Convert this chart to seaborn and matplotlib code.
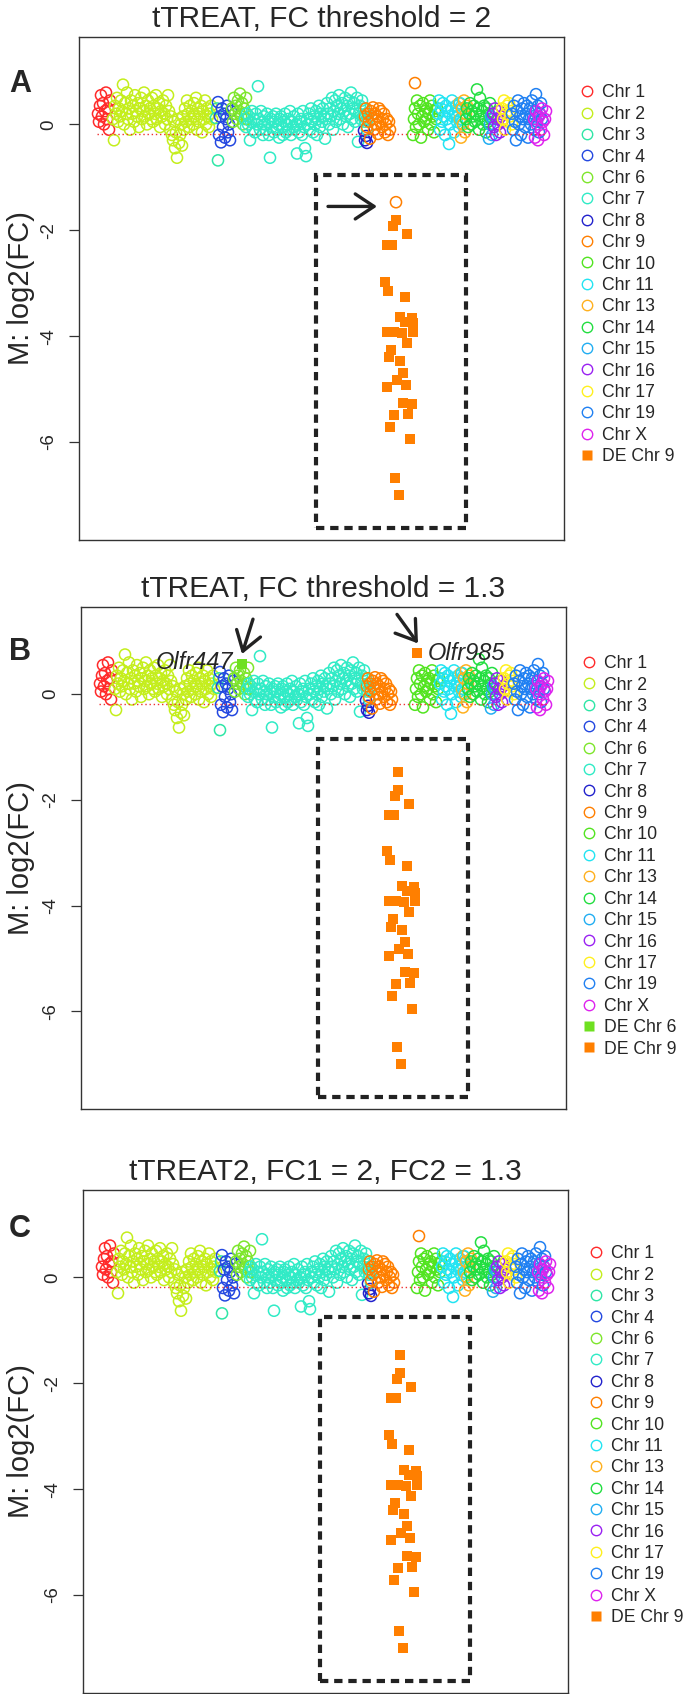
import numpy as np
import pandas as pd
import matplotlib
matplotlib.use("Agg")
import matplotlib.pyplot as plt
from matplotlib.lines import Line2D
from matplotlib.patches import Rectangle
import seaborn as sns

# chromosome names, colours and the gene rank where each block starts
chr_names = ['Chr 1', 'Chr 2', 'Chr 3', 'Chr 4', 'Chr 6', 'Chr 7', 'Chr 8', 'Chr 9', 'Chr 10',
             'Chr 11', 'Chr 13', 'Chr 14', 'Chr 15', 'Chr 16', 'Chr 17', 'Chr 19', 'Chr X']
chr_colors = ['#FF2A2A', '#C4EE1C', '#2EE6A6', '#2448E0', '#7EE62C', '#30EBC6', '#2222CC', '#FF7F00',
              '#52E420', '#22E4F2', '#FFB01E', '#22DE40', '#22AEF2', '#9A22F2', '#FFF01E', '#2080F2', '#DE22EE']
chr_start = [10, 25, 128, 130, 144, 157, 276, 277, 325, 350, 371, 378, 401, 405, 414, 424, 446]

# M values (log2 fold change) of the genes, in genome order
chr1_m = [0.2, 0.05, 0.35, 0.55, 0.15, 0.4, 0.0, 0.25, 0.6, 0.1, 0.3, -0.1, 0.45]
chr2_m = [0.1, -0.3, 0.35, 0.2, 0.5, 0.05, 0.3, 0.15, 0.45, 0.25,
          0.75, 0.0, 0.4, 0.2, 0.6, 0.1, 0.3, -0.1, 0.45, 0.2,
          0.35, 0.05, 0.55, 0.25, 0.15, 0.4, -0.05, 0.3, 0.5, 0.1,
          0.25, 0.6, 0.15, 0.35, 0.0, 0.45, 0.2, 0.3, 0.1, 0.5,
          0.05, 0.35, 0.2, 0.55, 0.1, 0.3, 0.4, -0.05, 0.25, 0.15,
          0.45, 0.2, 0.0, 0.35, 0.1, 0.55, 0.25, -0.1, 0.15, -0.2,
          -0.3, 0.05, -0.45, -0.15, -0.63, 0.1, -0.35, -0.2, 0.0, -0.4,
          0.15, -0.1, 0.3, 0.05, 0.45, 0.2, -0.05, 0.35, 0.1, 0.25,
          0.0, 0.4, 0.15, 0.5, -0.1, 0.3, 0.05, 0.2, 0.35, -0.15,
          0.25, 0.1, 0.45, 0.0, 0.3, 0.15, -0.05, 0.2, 0.35, 0.1]
chr3_m = [0.12, 0.3, -0.68]
chr4_m = [0.42, -0.2, 0.15, -0.34, 0.3, -0.05, 0.2, -0.25, 0.1, 0.35, -0.15, 0.0, -0.3, 0.25]
chr6_m = [0.3, 0.05, 0.5, 0.2, 0.35, 0.1, 0.45, 0.25, 0.58, 0.15, 0.4, 0.0, 0.3, 0.2, 0.5, 0.1]
chr7_m = [0.1, -0.05, 0.2, 0.0, 0.15, -0.3, 0.05, 0.25, -0.1, 0.1,
          -0.15, 0.2, 0.0, 0.72, 0.1, -0.1, 0.25, 0.05, -0.2, 0.15,
          0.0, -0.1, 0.2, 0.05, -0.2, -0.63, 0.1, -0.05, 0.15, -0.15,
          0.05, 0.2, -0.1, 0.0, -0.25, 0.1, 0.15, -0.05, -0.2, 0.05,
          0.2, -0.15, 0.0, 0.1, -0.1, 0.25, -0.2, 0.05, -0.05, 0.15,
          -0.1, 0.0, -0.55, 0.2, -0.15, 0.05, 0.1, -0.2, 0.25, -0.05,
          -0.45, -0.6, 0.1, 0.0, 0.2, -0.1, 0.3, 0.05, -0.15, 0.15,
          0.0, 0.25, -0.2, 0.1, 0.35, -0.05, 0.2, 0.05, 0.3, 0.15,
          -0.27, 0.1, 0.4, 0.2, 0.0, 0.3, 0.15, 0.5, -0.1, 0.25,
          0.45, 0.05, 0.35, 0.2, 0.55, 0.1, 0.3, 0.4, 0.0, 0.25,
          0.5, 0.15, 0.35, -0.05, 0.45, 0.2, 0.6, 0.1, 0.3, 0.4,
          0.05, 0.25, 0.5, -0.33, 0.2, 0.35, 0.1, 0.45, 0.15, 0.3,
          0.05, 0.2, -0.1, 0.1]
chr8_m = [-0.12, -0.3, -0.22, -0.35]
chr9_m = [0.15, 0.3, -0.05, 0.2, 0.05, -0.27, 0.25, 0.1, 0.32, -0.1, 0.2, 0.0, 0.15,
          -0.18, 0.3, 0.05, 0.25, -0.05, 0.1, 0.2, -0.15, 0.0, 0.1, -0.2, 0.05, -0.1]
chr10_m = [-0.2, 0.1, 0.3, -0.05, 0.45, 0.2, 0.0, 0.35, -0.25, 0.15, 0.4, 0.05, 0.25,
           0.1, 0.3, -0.1, 0.2, 0.45, 0.0, 0.35, 0.15, -0.15, 0.25, 0.1, 0.3]
chr11_m = [0.2, 0.45, -0.1, 0.3, 0.05, 0.4, 0.15, -0.2, 0.35, 0.1, 0.25, -0.37, 0.0,
           0.3, 0.45, 0.15, -0.15, 0.2, 0.35, 0.05, 0.25, -0.05, 0.4, 0.1, 0.3, 0.0]
chr13_m = [0.4, 0.1, -0.25, 0.3, 0.0, 0.45, -0.15, 0.2, 0.35]
chr14_m = [0.1, 0.3, -0.05, 0.2, 0.4, 0.0, 0.25, 0.15, 0.35, 0.05, 0.2, 0.66, 0.3,
           -0.1, 0.5, 0.15, 0.25, 0.0, 0.35, 0.1, -0.15, 0.3, 0.05, 0.2, 0.4, 0.1]
chr15_m = [-0.27, 0.0, 0.15, -0.2, 0.1]
chr16_m = [0.2, -0.05, 0.3, -0.2, 0.1, 0.0, 0.25, -0.15, 0.15, 0.05]
chr17_m = [0.3, 0.1, 0.45, -0.1, 0.2, 0.35, 0.05, 0.4, 0.15, 0.25, 0.0]
chr19_m = [0.2, -0.1, 0.35, 0.05, -0.3, 0.25, 0.45, 0.0, 0.15, -0.2, 0.3, 0.1, 0.4, -0.05, 0.2, 0.35,
           -0.25, 0.1, 0.3, 0.0, 0.45, 0.15, -0.1, 0.25, 0.57, 0.05, 0.35, -0.15, 0.2, 0.4, 0.1]
chrX_m = [0.1, -0.25, 0.25, 0.0, -0.3, 0.15, 0.2, -0.1, 0.3, 0.05, -0.2, 0.1, 0.25]
all_m = [chr1_m, chr2_m, chr3_m, chr4_m, chr6_m, chr7_m, chr8_m, chr9_m, chr10_m, chr11_m,
         chr13_m, chr14_m, chr15_m, chr16_m, chr17_m, chr19_m, chrX_m]

# strongly down-regulated Chr 9 cluster (DE at every threshold)
de9_idx = [308, 305, 319, 299, 304, 297, 300, 317, 312, 324, 317, 325, 299, 306, 314, 325,
           319, 303, 301, 312, 315, 309, 299, 318, 315, 324, 306, 320, 302, 322, 307, 311]
de9_m = [-1.81, -1.92, -2.08, -2.28, -2.28, -2.97, -3.14, -3.26, -3.63, -3.65, -3.73, -3.76, -3.92, -3.92,
         -3.94, -3.92, -4.13, -4.26, -4.40, -4.47, -4.69, -4.83, -4.96, -4.92, -5.26, -5.28, -5.49, -5.47,
         -5.71, -5.95, -6.68, -7.00]
# genes whose status changes with the threshold
edge9_idx, edge9_m = 308, -1.47      # arrowed gene in A
olfr985_idx, olfr985_m = 327, 0.78
olfr447_idx = 152

titles = ['tTREAT, FC threshold = 2', 'tTREAT, FC threshold = 1.3', 'tTREAT2, FC1 = 2, FC2 = 1.3']
letters = ['A', 'B', 'C']
rect_top = [-0.96, -0.85, -0.75]

sns.set_style('white')
plt.rcParams['font.family'] = ['Liberation Sans', 'DejaVu Sans']

rows = []
for name, start, vals in zip(chr_names, chr_start, all_m):
    for k, m in enumerate(vals):
        rows.append({'idx': start + k, 'M': m, 'chr': name})
genes = pd.DataFrame(rows)
pal = dict(zip(chr_names, chr_colors))
orange = '#FF7F00'
green6 = '#6EE020'
arrow_kw = dict(arrowstyle='->,head_length=0.45,head_width=0.3', color='#222222', lw=2.4,
                mutation_scale=30, shrinkA=0, shrinkB=0)

W, H = 685, 1694
fig = plt.figure(figsize=(W / 100, H / 100), dpi=100)
# axes boxes in pixels: left, top, bottom
boxes = [(79, 37, 540), (81, 607, 1109), (83, 1190, 1693)]
leg_anchor = [(1.03, 0.906), (1.03, 0.904), (1.04, 0.89)]
letter_y = [1 - 55 / 503, 1 - 53 / 502, 1 - 47 / 503]

for p in range(3):
    left, top, bot = boxes[p]
    ax = fig.add_axes([left / W, 1 - bot / H, 485 / W, (bot - top) / H])

    circ = genes.copy()
    extra = [{'idx': olfr985_idx, 'M': olfr985_m, 'chr': 'Chr 9'}] if p != 1 else []
    if p == 0:
        extra.append({'idx': edge9_idx, 'M': edge9_m, 'chr': 'Chr 9'})
    if p == 1:
        circ = circ[~((circ['chr'] == 'Chr 6') & (circ['idx'] == olfr447_idx))]
    circ = pd.concat([circ, pd.DataFrame(extra)], ignore_index=True)
    circ = circ.sort_values('idx', kind='stable')

    sns.scatterplot(data=circ, x='idx', y='M', hue='chr', palette=pal, hue_order=chr_names,
                    s=64, marker='o', linewidth=1.1, legend=False, ax=ax)
    coll = ax.collections[-1]
    coll.set_edgecolors(coll.get_facecolors())
    coll.set_facecolors('none')

    ax.hlines(-0.18, 9, 458, colors='#EE3030', linestyles=(0, (1, 2)), lw=1.0)

    sq_idx = list(de9_idx)
    sq_m = list(de9_m)
    if p >= 1:
        sq_idx.append(edge9_idx)
        sq_m.append(edge9_m)
    if p == 1:
        sq_idx.append(olfr985_idx)
        sq_m.append(olfr985_m)
        g6 = genes[(genes['chr'] == 'Chr 6') & (genes['idx'] == olfr447_idx)]
        sns.scatterplot(x=g6['idx'], y=g6['M'], marker='s', s=58, color=green6, linewidth=0, ax=ax)
    sns.scatterplot(x=sq_idx, y=sq_m, marker='s', s=58, color=orange, linewidth=0, ax=ax)

    ax.add_patch(Rectangle((228, -7.62), 378 - 228, rect_top[p] + 7.62, fill=False,
                           ec='#222222', lw=3.0, ls=(0, (2.0, 1.4)), zorder=5))

    if p == 0:
        ax.annotate('', xy=(289, -1.55), xytext=(240, -1.55), arrowprops=arrow_kw)
    if p == 1:
        for (x0, y0), (x1, y1) in [((163, 1.42), (152, 0.76)), ((307, 1.51), (328, 0.96))]:
            ax.annotate('', xy=(x1, y1), xytext=(x0, y0), arrowprops=arrow_kw)
        ax.text(143, 0.47, 'Olfr447', style='italic', fontsize=17, ha='right', va='baseline')
        ax.text(338, 0.64, 'Olfr985', style='italic', fontsize=17, ha='left', va='baseline')

    ax.set_xlim(-9, 476)
    ax.set_ylim(-7.85, 1.65)
    ax.set_xticks([])
    ax.set_yticks([0, -2, -4, -6])
    ax.set_yticklabels(['0', '-2', '-4', '-6'])
    ax.tick_params(axis='y', left=True, length=7, width=0.9, pad=9, labelsize=13.5, labelrotation=90,
                   color='#333333')
    for t in ax.get_yticklabels():
        t.set_va('center')
    ax.set_xlabel('')
    ax.set_ylabel('M: log2(FC)', fontsize=21, va='center')
    ax.yaxis.set_label_coords((21.5 - left) / 485, 0.5)
    for s in ax.spines.values():
        s.set_color('#333333')
        s.set_linewidth(1.0)
    ax.set_title(titles[p], fontsize=21.5, pad=7)
    ax.text((20 - left) / 485, letter_y[p], letters[p], transform=ax.transAxes,
            fontsize=22, fontweight='bold', ha='center', va='baseline')

    handles = [Line2D([], [], ls='none', marker='o', mfc='none', mec=c, mew=1.0, ms=7.5) for c in chr_colors]
    labels = list(chr_names)
    if p == 1:
        handles.append(Line2D([], [], ls='none', marker='s', mfc=green6, mec='none', ms=7))
        labels.append('DE Chr 6')
    handles.append(Line2D([], [], ls='none', marker='s', mfc=orange, mec='none', ms=7))
    labels.append('DE Chr 9')
    ax.legend(handles, labels, loc='upper left', bbox_to_anchor=leg_anchor[p], frameon=False,
              fontsize=12.7, handlelength=1.0, handletextpad=0.35, labelspacing=0.25,
              borderpad=0, borderaxespad=0)

fig.savefig('out.png', dpi=100)
